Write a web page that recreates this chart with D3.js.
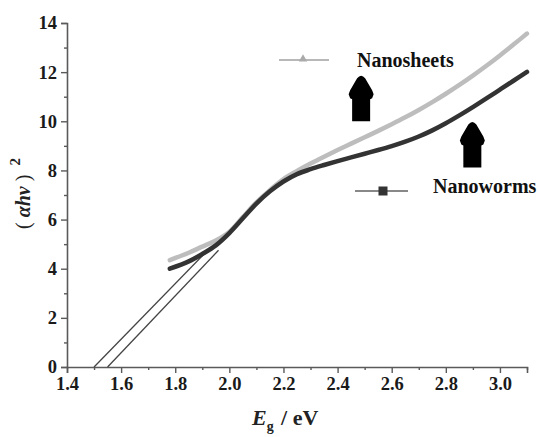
<!DOCTYPE html>
<html>
<head>
<meta charset="utf-8">
<script src="https://cdn.jsdelivr.net/npm/d3@7"></script>
<style>
  html, body { margin: 0; padding: 0; background: #fff; }
  svg { display: block; }
</style>
</head>
<body>
<svg id="chart" width="538" height="437"></svg>
<script>
// ---- data ----
const sheetsX = [1.78, 1.85, 1.9, 1.95, 2.0, 2.05, 2.1, 2.15, 2.2, 2.25, 2.3, 2.35, 2.4, 2.45, 2.5, 2.55, 2.6, 2.65, 2.7, 2.75, 2.8, 2.85, 2.9, 2.95, 3.0, 3.05, 3.1];
const sheetsY = [4.35, 4.65, 4.9, 5.15, 5.5, 6.1, 6.7, 7.2, 7.65, 7.98, 8.28, 8.56, 8.83, 9.09, 9.35, 9.61, 9.88, 10.16, 10.46, 10.78, 11.12, 11.48, 11.86, 12.26, 12.68, 13.12, 13.57];
const wormsX = [1.78, 1.85, 1.9, 1.95, 2.0, 2.05, 2.1, 2.15, 2.2, 2.25, 2.3, 2.35, 2.4, 2.45, 2.5, 2.55, 2.6, 2.65, 2.7, 2.75, 2.8, 2.85, 2.9, 2.95, 3.0, 3.05, 3.1];
const wormsY = [4.0, 4.3, 4.6, 4.95, 5.45, 6.05, 6.65, 7.15, 7.55, 7.85, 8.05, 8.22, 8.38, 8.53, 8.68, 8.83, 8.99, 9.17, 9.38, 9.63, 9.92, 10.24, 10.58, 10.93, 11.29, 11.65, 12.01];
// tangent (extrapolation) lines: [x0, y0, x1, y1]
const tangentSheets = [1.50, 0, 1.92, 4.75];
const tangentWorms = [1.55, 0, 1.96, 4.75];
const xTicks = [1.4, 1.6, 1.8, 2.0, 2.2, 2.4, 2.6, 2.8, 3.0];
const xMinorTicks = [1.5, 1.7, 1.9, 2.1, 2.3, 2.5, 2.7, 2.9, 3.1];
const yTicks = [0, 2, 4, 6, 8, 10, 12, 14];
const yMinorTicks = [1, 3, 5, 7, 9, 11, 13];
const seriesNames = ["Nanosheets", "Nanoworms"];
// arrow annotations: [x, y] of arrow base
const arrowPoints = [[2.487, 10.0], [2.898, 8.12]];

// ---- layout ----
const svg = d3.select("#chart");
const mLeft = 67, mRight = 527, mTop = 23, mBottom = 367;
const x = d3.scaleLinear().domain([1.4, 3.1]).range([mLeft, mRight]);
const y = d3.scaleLinear().domain([0, 14]).range([mBottom, mTop]);
const serif = "'Liberation Serif', 'Times New Roman', serif";
const axisColor = "#5a5a5a";

// ---- axes ----
const xAxis = svg.append("g").attr("transform", `translate(0,${mBottom})`)
  .call(d3.axisBottom(x).tickValues(xTicks).tickFormat(d3.format(".1f")).tickSize(6).tickPadding(4));
const xMinor = svg.append("g").attr("transform", `translate(0,${mBottom})`)
  .call(d3.axisBottom(x).tickValues(xMinorTicks).tickFormat("").tickSize(3));
const yAxis = svg.append("g").attr("transform", `translate(${mLeft},0)`)
  .call(d3.axisLeft(y).tickValues(yTicks).tickFormat(d3.format("d")).tickSize(6).tickPadding(4));
const yMinor = svg.append("g").attr("transform", `translate(${mLeft},0)`)
  .call(d3.axisLeft(y).tickValues(yMinorTicks).tickFormat("").tickSize(3));

[xAxis, xMinor, yAxis, yMinor].forEach(g => {
  g.selectAll(".domain").attr("stroke", axisColor).attr("stroke-width", 1.6);
  g.selectAll(".tick line").attr("stroke", axisColor).attr("stroke-width", 1.4);
  g.selectAll(".tick text").attr("fill", "#1a1a1a").style("font-family", serif)
    .style("font-weight", "bold").style("font-size", "18.5px");
});
xMinor.select(".domain").remove();
yMinor.select(".domain").remove();

// ---- tangent lines ----
const tangents = [tangentSheets, tangentWorms];
svg.append("g").selectAll("line").data(tangents).join("line")
  .attr("x1", d => x(d[0])).attr("y1", d => y(d[1]))
  .attr("x2", d => x(d[2])).attr("y2", d => y(d[3]))
  .attr("stroke", "#444").attr("stroke-width", 1.3);

// ---- curves ----
const line = d3.line().x(d => x(d[0])).y(d => y(d[1])).curve(d3.curveCatmullRom);
const sheets = sheetsX.map((v, i) => [v, sheetsY[i]]);
const worms = wormsX.map((v, i) => [v, wormsY[i]]);
svg.append("path").datum(sheets).attr("d", line)
  .attr("fill", "none").attr("stroke", "#bdbdbd").attr("stroke-width", 4.5).attr("stroke-linecap", "round");
svg.append("path").datum(worms).attr("d", line)
  .attr("fill", "none").attr("stroke", "#333").attr("stroke-width", 4.5).attr("stroke-linecap", "round");

// ---- legend ----
const leg = svg.append("g");
// Nanosheets
leg.append("line").attr("x1", 279).attr("x2", 329).attr("y1", 60).attr("y2", 60)
  .attr("stroke", "#b8b8b8").attr("stroke-width", 2);
leg.append("path").attr("d", d3.symbol().type(d3.symbolTriangle).size(30)())
  .attr("transform", "translate(303,59)").attr("fill", "#aaa");
leg.append("text").attr("x", 357).attr("y", 67).text(seriesNames[0])
  .style("font-family", serif).style("font-weight", "bold").style("font-size", "20px").attr("fill", "#111");
// Nanoworms
leg.append("line").attr("x1", 355).attr("x2", 408).attr("y1", 191).attr("y2", 191)
  .attr("stroke", "#888").attr("stroke-width", 2);
leg.append("rect").attr("x", 378.5).attr("y", 186.5).attr("width", 9).attr("height", 9).attr("fill", "#333");
leg.append("text").attr("x", 433).attr("y", 193).text(seriesNames[1])
  .style("font-family", serif).style("font-weight", "bold").style("font-size", "20px").attr("fill", "#111");

// ---- arrows ----
const arrowPath = "M-4,-43 Q0,-48 4,-43 L11,-31 L12.5,-27 L11,-23 L9,-22 L9,0 L-9,0 L-9,-22 L-11,-23 L-12.5,-27 L-11,-31 Z";
svg.append("g").selectAll("path").data(arrowPoints).join("path")
  .attr("d", arrowPath)
  .attr("transform", d => `translate(${x(d[0])},${y(d[1])})`)
  .attr("fill", "#000");

// ---- axis titles ----
const xt = svg.append("text").attr("x", 252).attr("y", 425)
  .style("font-family", serif).style("font-weight", "bold").style("font-size", "22px").attr("fill", "#222");
xt.append("tspan").text("E").style("font-style", "italic");
xt.append("tspan").text("g").attr("dy", 6).style("font-size", "14px");
xt.append("tspan").text("\u2009/ eV").attr("dy", -6).attr("dx", 3);

const yt = svg.append("text").attr("transform", "translate(30,229) rotate(-90)")
  .style("font-family", serif).style("font-weight", "bold").style("font-size", "20px").attr("fill", "#222");
yt.append("tspan").text("(").style("font-weight", "normal");
yt.append("tspan").text("αhν").attr("dx", 5).style("font-style", "italic");
yt.append("tspan").text(")").attr("dx", 5).style("font-weight", "normal");
yt.append("tspan").text("2").attr("dx", 9).attr("dy", -10).style("font-size", "15px");
</script>
</body>
</html>
